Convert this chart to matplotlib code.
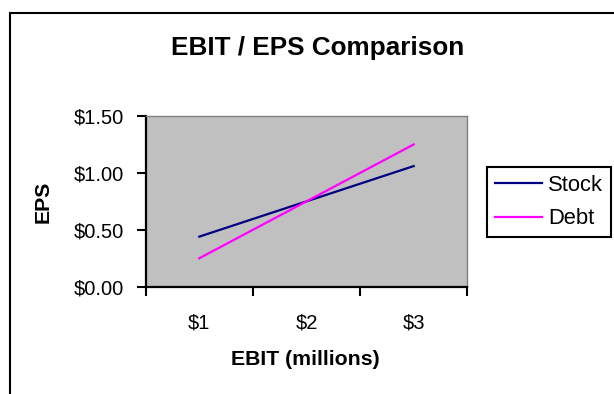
import matplotlib
matplotlib.use("Agg")
import matplotlib.pyplot as plt
from matplotlib.patches import Rectangle

plt.rcParams['font.family'] = ['Liberation Sans', 'DejaVu Sans']

# datos del grafico
ebit_labels = ["$1", "$2", "$3"]
eps_stock = [0.44, 0.75, 1.06]
eps_debt = [0.25, 0.75, 1.25]
y_ticks = [0.0, 0.5, 1.0, 1.5]
y_tick_labels = ["$0.00", "$0.50", "$1.00", "$1.50"]

W, H = 614, 394
fig = plt.figure(figsize=(W / 100, H / 100), dpi=100)
fig.patch.set_facecolor("white")

# marco exterior (cortado a la derecha y abajo)
marco = Rectangle((9.5 / W, -0.1), 1.2, (H - 13.5) / H + 0.1, transform=fig.transFigure,
                  fill=False, edgecolor="black", linewidth=1.5, clip_on=False)
fig.add_artist(marco)

ax = fig.add_axes([145.7 / W, (H - 286.7) / H, 321.6 / W, 170.7 / H])
ax.set_facecolor("#C0C0C0")

x = list(range(len(ebit_labels)))
ax.plot(x, eps_stock, color="#000080", linewidth=1.6, label="Stock")
ax.plot(x, eps_debt, color="#FF00FF", linewidth=1.6, label="Debt")

ax.set_xlim(-0.5, len(ebit_labels) - 0.5)
ax.set_ylim(0, 1.5)

# ticks en los limites de categoria, etiquetas en el centro
ax.set_xticks([i - 0.5 for i in range(len(ebit_labels) + 1)])
ax.set_xticklabels([])
ax.set_xticks(x, minor=True)
ax.set_xticklabels(ebit_labels, minor=True)
ax.tick_params(axis="x", which="major", direction="out", length=6.5, width=1.5, color="black")
ax.tick_params(axis="x", which="minor", length=0, pad=19, labelsize=14.5)

ax.set_yticks(y_ticks)
ax.set_yticklabels(y_tick_labels)
ax.tick_params(axis="y", direction="out", length=6.5, width=1.5, pad=9, labelsize=14.5)

for lado in ["left", "bottom"]:
    ax.spines[lado].set_color("black")
    ax.spines[lado].set_linewidth(1.6)
for lado in ["top", "right"]:
    ax.spines[lado].set_color("#808080")
    ax.spines[lado].set_linewidth(1.0)

fig.text(317.5 / W, (H - 55) / H, "EBIT / EPS Comparison", ha="center", va="baseline",
         fontsize=18.8, fontweight="bold")
fig.text(305 / W, (H - 365) / H, "EBIT (millions)", ha="center", va="baseline",
         fontsize=15.3, fontweight="bold")
fig.text(43.5 / W, (H - 202) / H, "EPS", ha="center", va="center", rotation=90,
         fontsize=15.3, fontweight="bold")

leg = ax.legend(loc="upper left", bbox_to_anchor=(486.7 / W, (H - 166.7) / H),
                bbox_transform=fig.transFigure, fontsize=15.8, frameon=True, fancybox=False,
                handlelength=2.15, handletextpad=0.28, labelspacing=0.58, borderpad=0.36,
                borderaxespad=0, framealpha=1)
leg.get_frame().set_edgecolor("black")
leg.get_frame().set_linewidth(1.5)

fig.savefig("out.png", dpi=100)
